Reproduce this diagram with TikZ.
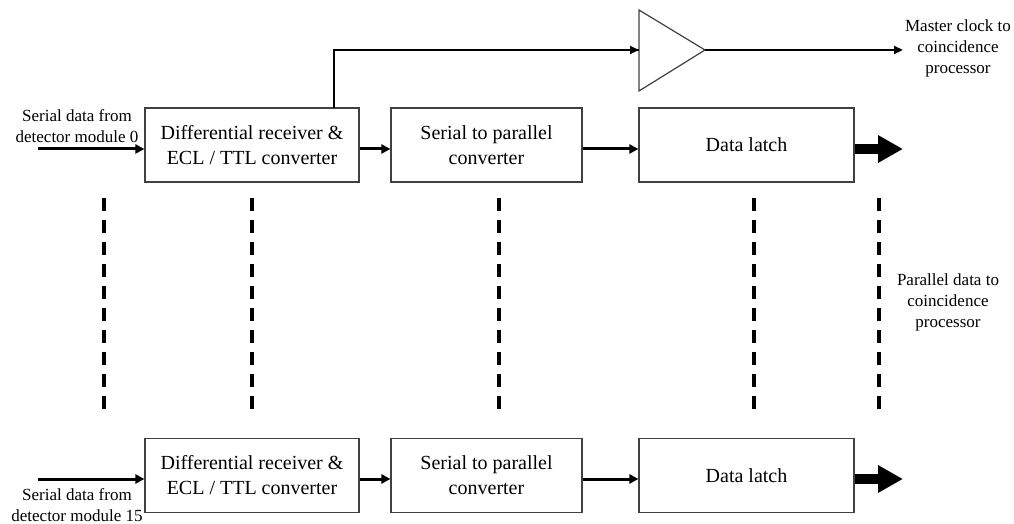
\documentclass[tikz,border=0pt]{standalone}
\usepackage{fontspec}
\setmainfont{Liberation Serif}
\usepackage{xcolor}
\usetikzlibrary{arrows.meta,positioning,calc}
\definecolor{edge}{HTML}{404040}
\definecolor{ink}{HTML}{000000}

\begin{document}
\begin{tikzpicture}[
  x=0.5pt, y=-0.5pt,
  block/.style={rectangle, draw=edge, line width=0.6pt, fill=white, minimum height=37pt, align=center, font=\fontsize{10}{12.5}\selectfont},
  note/.style={align=center, font=\fontsize{8.5}{10.5}\selectfont},
  arrow/.style={-{Triangle[length=4.5pt, width=4.5pt]}, line width=1.5pt, draw=ink},
  clockline/.style={line width=1.2pt, draw=ink},
  bigarrow/.style={-{Triangle[length=12.5pt, width=13pt]}, line width=5pt, draw=ink},
  dashline/.style={line width=1.6pt, draw=ink, dash pattern=on 6.5pt off 4.5pt}
]
\useasboundingbox (0,0) rectangle (1014,524);

% top channel
\node[block, minimum width=107pt] (rxA) at (252,145) {Differential receiver \&\\ECL / TTL converter};
\node[block, minimum width=95.5pt] (spA) at (486.5,145) {Serial to parallel\\converter};
\node[block, minimum width=107.5pt] (latchA) at (746.5,145) {Data latch};
\node[note] (inA) at (77,126) {Serial data from\\detector module 0};
\coordinate (srcA) at (38,149);
\coordinate (outA) at (903,149);

% bottom channel
\node[block, minimum width=107pt] (rxB) at (252,475.5) {Differential receiver \&\\ECL / TTL converter};
\node[block, minimum width=95.5pt] (spB) at (486.5,475.5) {Serial to parallel\\converter};
\node[block, minimum width=107.5pt] (latchB) at (746.5,475.5) {Data latch};
\node[note] (inB) at (77,505) {Serial data from\\detector module 15};
\coordinate (srcB) at (38,479);
\coordinate (outB) at (903,479);

% clock buffer
\coordinate (ampTop) at (639,10);
\coordinate (ampBot) at (639,91);
\coordinate (ampIn) at (639,50);
\coordinate (ampOut) at (705,50);
\draw[draw=edge, line width=0.6pt, fill=white] (ampTop) -- (ampOut) -- (ampBot) -- cycle;
\coordinate (tap) at (334,108);
\coordinate (corner) at (334,50);
\coordinate (clkEnd) at (903,50);
\node[note] (clkNote) at (958,48) {Master clock to\\coincidence\\processor};
\node[note] (parNote) at (948,302) {Parallel data to\\coincidence\\processor};

\draw[arrow] (srcA) -- (srcA -| rxA.west);
\draw[arrow] (rxA.east |- srcA) -- (spA.west |- srcA);
\draw[arrow] (spA.east |- srcA) -- (latchA.west |- srcA);
\draw[bigarrow] (latchA.east |- srcA) -- (outA);

\draw[arrow] (srcB) -- (srcB -| rxB.west);
\draw[arrow] (rxB.east |- srcB) -- (spB.west |- srcB);
\draw[arrow] (spB.east |- srcB) -- (latchB.west |- srcB);
\draw[bigarrow] (latchB.east |- srcB) -- (outB);

\draw[clockline] (tap) -- (corner) -- (ampIn);
\draw[clockline, -{Triangle[length=4.5pt, width=4pt]}] (corner) -- (ampIn);
\draw[clockline, -{Triangle[length=4.5pt, width=4pt]}] (ampOut) -- (clkEnd);

% channels 1 to 14 left out
\foreach \x in {104,252,499,754,879}
  \draw[dashline] (\x,198) -- (\x,418);
\end{tikzpicture}
\end{document}
